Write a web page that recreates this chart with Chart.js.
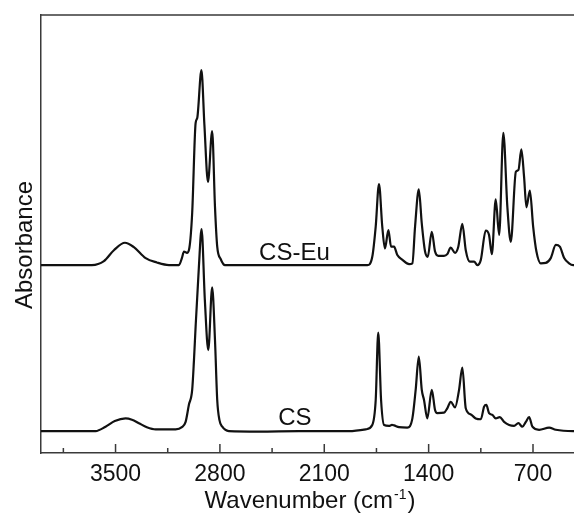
<!DOCTYPE html>
<html>
<head>
<meta charset="utf-8">
<script src="https://cdn.jsdelivr.net/npm/chart.js@4/dist/chart.umd.min.js"></script>
<style>
  body { margin: 0; background: #fff; }
</style>
</head>
<body>
<canvas id="ir-chart" width="574" height="515"></canvas>
<script>
// FTIR spectra (wavenumber in cm-1, absorbance in a.u.)
// CS-Eu is drawn with its own offset above CS, like in the original
let euWn = [4000, 3659, 3578, 3511, 3437, 3377, 3298, 3223, 3142, 3075, 3055, 3041, 3021, 3005, 2986, 2963, 2952, 2924, 2904, 2880, 2852, 2833, 2818, 2795, 2766, 2270, 1811, 1778, 1755, 1733, 1711, 1693, 1670, 1652, 1632, 1610, 1576, 1531, 1509, 1491, 1466, 1446, 1424, 1406, 1379, 1357, 1335, 1297, 1275, 1252, 1223, 1201, 1174, 1151, 1124, 1095, 1073, 1050, 1017, 995, 976, 950, 927, 899, 872, 849, 815, 798, 778, 760, 744, 721, 699, 677, 648, 614, 581, 547, 520, 491, 458, 431, 400];
let euAbs = [0.429, 0.429, 0.438, 0.463, 0.480, 0.470, 0.445, 0.435, 0.429, 0.429, 0.445, 0.460, 0.457, 0.468, 0.548, 0.753, 0.765, 0.874, 0.749, 0.619, 0.735, 0.562, 0.471, 0.443, 0.429, 0.429, 0.429, 0.448, 0.517, 0.614, 0.517, 0.467, 0.509, 0.471, 0.471, 0.452, 0.441, 0.431, 0.433, 0.517, 0.602, 0.524, 0.460, 0.448, 0.505, 0.460, 0.450, 0.450, 0.454, 0.469, 0.457, 0.471, 0.523, 0.463, 0.437, 0.437, 0.429, 0.441, 0.508, 0.498, 0.454, 0.579, 0.498, 0.731, 0.562, 0.482, 0.642, 0.646, 0.693, 0.631, 0.561, 0.599, 0.517, 0.460, 0.433, 0.434, 0.445, 0.475, 0.471, 0.445, 0.433, 0.429, 0.429];

let csWn = [4000, 3634, 3567, 3505, 3433, 3390, 3343, 3290, 3231, 3097, 3055, 3030, 3008, 2986, 2974, 2963, 2941, 2923, 2901, 2878, 2852, 2833, 2818, 2803, 2784, 2740, 2538, 2270, 1934, 1822, 1778, 1755, 1738, 1719, 1699, 1666, 1646, 1632, 1599, 1543, 1509, 1487, 1466, 1446, 1431, 1409, 1379, 1357, 1342, 1297, 1275, 1252, 1223, 1196, 1174, 1151, 1117, 1084, 1050, 1028, 1013, 995, 972, 950, 923, 894, 860, 827, 798, 771, 748, 726, 704, 659, 592, 547, 431, 400];
let csAbs = [0.050, 0.050, 0.060, 0.073, 0.079, 0.076, 0.068, 0.059, 0.054, 0.054, 0.059, 0.071, 0.110, 0.144, 0.212, 0.288, 0.425, 0.511, 0.349, 0.235, 0.378, 0.258, 0.121, 0.075, 0.060, 0.050, 0.049, 0.050, 0.050, 0.054, 0.064, 0.121, 0.275, 0.121, 0.064, 0.062, 0.064, 0.063, 0.059, 0.058, 0.079, 0.144, 0.220, 0.144, 0.121, 0.079, 0.144, 0.098, 0.091, 0.092, 0.102, 0.117, 0.104, 0.144, 0.195, 0.102, 0.088, 0.079, 0.077, 0.106, 0.110, 0.091, 0.087, 0.079, 0.082, 0.071, 0.064, 0.062, 0.068, 0.060, 0.071, 0.082, 0.060, 0.053, 0.058, 0.053, 0.050, 0.050];

// axis ticks
let majorTicks = [3500, 2800, 2100, 1400, 700];
let minorTicks = [3850, 3150, 2450, 1750, 1050];

// curve names written next to the spectra
let curveNames = ["CS-Eu", "CS"];

const FONT = '"Liberation Sans", Arial, Helvetica, sans-serif';
const AXIS_COLOR = "#3a3a3a";

function toPoints(xs, ys) {
  return xs.map((x, i) => ({ x: x, y: ys[i] }));
}

// top frame line, inward tick marks, axis titles and curve names
const decorPlugin = {
  id: "decor",
  afterDraw(chart) {
    let ctx = chart.ctx;
    let area = chart.chartArea;
    let xs = chart.scales.x;
    let ys = chart.scales.y;

    ctx.save();
    ctx.strokeStyle = AXIS_COLOR;
    ctx.lineWidth = 1.5;
    ctx.beginPath();
    ctx.moveTo(area.left, area.top);
    ctx.lineTo(area.right + 2, area.top);
    majorTicks.forEach(v => {
      let px = xs.getPixelForValue(v);
      ctx.moveTo(px, area.bottom);
      ctx.lineTo(px, area.bottom - 9);
    });
    minorTicks.forEach(v => {
      let px = xs.getPixelForValue(v);
      ctx.moveTo(px, area.bottom);
      ctx.lineTo(px, area.bottom - 5);
    });
    ctx.stroke();

    ctx.fillStyle = "#111";

    // y title
    ctx.save();
    ctx.translate(32, 245);
    ctx.rotate(-Math.PI / 2);
    ctx.font = "24px " + FONT;
    ctx.textAlign = "center";
    ctx.textBaseline = "alphabetic";
    ctx.fillText("Absorbance", 0, 0);
    ctx.restore();

    // x title with superscript
    let base = "Wavenumber (cm";
    let sup = "-1";
    let tail = ")";
    ctx.font = "24px " + FONT;
    let wBase = ctx.measureText(base).width;
    let wTail = ctx.measureText(tail).width;
    ctx.font = "14px " + FONT;
    let wSup = ctx.measureText(sup).width;
    let startX = 309 - (wBase + wSup + wTail) / 2;
    let baseY = 508;
    ctx.textAlign = "left";
    ctx.textBaseline = "alphabetic";
    ctx.font = "24px " + FONT;
    ctx.fillText(base, startX, baseY);
    ctx.font = "14px " + FONT;
    ctx.fillText(sup, startX + wBase + 1, baseY - 9);
    ctx.font = "24px " + FONT;
    ctx.fillText(tail, startX + wBase + wSup + 2, baseY);

    // curve names
    ctx.font = "24px " + FONT;
    ctx.textAlign = "center";
    ctx.fillText(curveNames[0], xs.getPixelForValue(2300), ys.getPixelForValue(0.441));
    ctx.fillText(curveNames[1], xs.getPixelForValue(2297), ys.getPixelForValue(0.064));
    ctx.restore();
  }
};

let chart = new Chart(document.getElementById("ir-chart").getContext("2d"), {
  type: "line",
  data: {
    datasets: [
      {
        label: curveNames[0],
        data: toPoints(euWn, euAbs),
        borderColor: "#111",
        borderWidth: 2.2,
        pointRadius: 0,
        cubicInterpolationMode: "monotone",
        fill: false
      },
      {
        label: curveNames[1],
        data: toPoints(csWn, csAbs),
        borderColor: "#111",
        borderWidth: 2.2,
        pointRadius: 0,
        cubicInterpolationMode: "monotone",
        fill: false
      }
    ]
  },
  options: {
    responsive: false,
    animation: false,
    events: [],
    devicePixelRatio: 1,
    layout: { padding: { top: 15, right: 0, left: 0, bottom: 0 } },
    plugins: {
      legend: { display: false },
      tooltip: { enabled: false }
    },
    scales: {
      x: {
        type: "linear",
        reverse: true,
        min: 425,
        max: 4000,
        afterBuildTicks: scale => {
          scale.ticks = majorTicks.map(v => ({ value: v }));
        },
        afterFit: scale => {
          scale.height = 62;
        },
        ticks: {
          color: "#111",
          padding: 0,
          font: { family: FONT, size: 23 },
          callback: v => String(v)
        },
        grid: { display: false },
        border: { display: true, color: AXIS_COLOR, width: 1.5 }
      },
      y: {
        min: 0,
        max: 1,
        afterFit: scale => {
          scale.width = 41;
        },
        ticks: { display: false },
        grid: { display: false },
        border: { display: true, color: AXIS_COLOR, width: 1.5 }
      }
    }
  },
  plugins: [decorPlugin]
});
</script>
</body>
</html>
